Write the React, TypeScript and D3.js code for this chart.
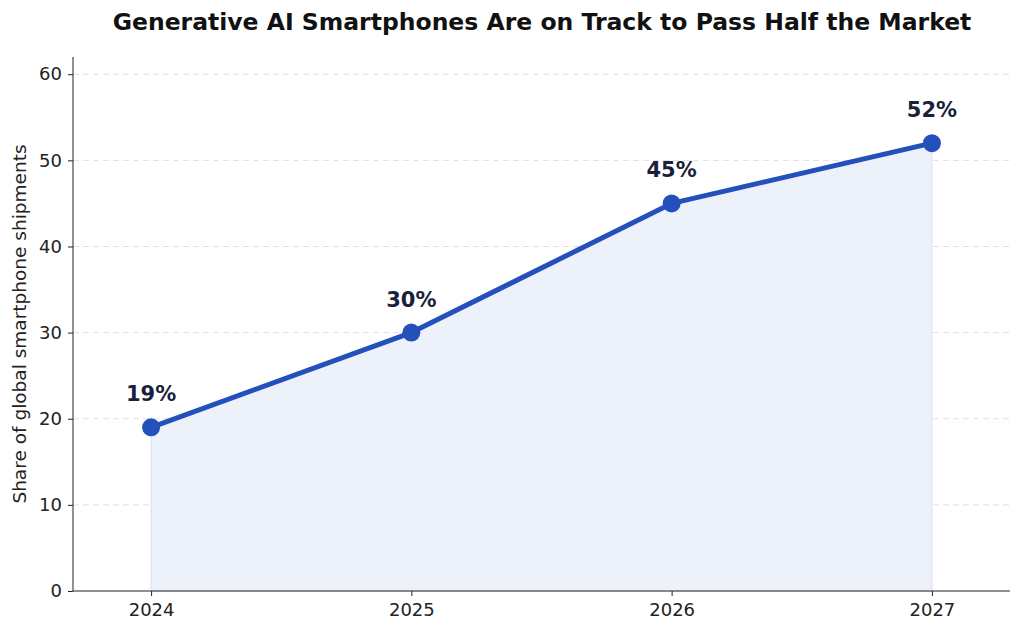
import { useEffect, useRef } from 'react';
import * as d3 from 'd3';

const years = [2024, 2025, 2026, 2027];
const shares = [19, 30, 45, 52];
const yTicks = [0, 10, 20, 30, 40, 50, 60];

const W = 1024;
const H = 635;

export default function App() {
  const ref = useRef<SVGSVGElement>(null);

  useEffect(() => {
    if (!ref.current) return;
    const svg = d3.select(ref.current);
    svg.selectAll('*').remove();
    const font = 'DejaVu Sans, sans-serif';

    const left = 73, right = 1010, top = 57, bottom = 591;
    const x = d3.scaleLinear().domain([2023.7, 2027.3]).range([left, right]);
    const y = d3.scaleLinear().domain([0, 62]).range([bottom, top]);

    // grid
    svg.append('g').selectAll('line').data(yTicks.filter(t => t > 0)).join('line')
      .attr('x1', left).attr('x2', right)
      .attr('y1', d => y(d)).attr('y2', d => y(d))
      .attr('stroke', '#e0e0e0').attr('stroke-width', 1).attr('stroke-dasharray', '6,4');

    const pts = years.map((yr, i) => ({ yr, v: shares[i] }));

    const area = d3.area<{ yr: number; v: number }>()
      .x(d => x(d.yr)).y0(y(0)).y1(d => y(d.v));
    svg.append('path').datum(pts).attr('d', area)
      .attr('fill', '#ebf0f9').attr('fill-opacity', 0.9)
      .attr('stroke', '#d8e0f0').attr('stroke-width', 1);

    const line = d3.line<{ yr: number; v: number }>().x(d => x(d.yr)).y(d => y(d.v));
    svg.append('path').datum(pts).attr('d', line)
      .attr('fill', 'none').attr('stroke', '#2450bb').attr('stroke-width', 5)
      .attr('stroke-linejoin', 'round');

    svg.append('g').selectAll('circle').data(pts).join('circle')
      .attr('cx', d => x(d.yr)).attr('cy', d => y(d.v)).attr('r', 9)
      .attr('fill', '#2450bb');

    svg.append('g').selectAll('text').data(pts).join('text')
      .attr('x', d => x(d.yr)).attr('y', d => y(d.v) - 26)
      .attr('text-anchor', 'middle').attr('font-family', font)
      .attr('font-size', 21).attr('font-weight', 'bold').attr('fill', '#1a1f3a')
      .text(d => `${d.v}%`);

    // axes
    const yAxis = svg.append('g').attr('transform', `translate(${left},0)`)
      .call(d3.axisLeft(y).tickValues(yTicks).tickSize(5).tickPadding(6));
    const xAxis = svg.append('g').attr('transform', `translate(0,${bottom})`)
      .call(d3.axisBottom(x).tickValues(years).tickFormat(d3.format('d')).tickSize(5).tickPadding(7));
    [yAxis, xAxis].forEach(a => {
      a.selectAll('text').attr('font-family', font).attr('font-size', 18).attr('fill', '#222');
      a.selectAll('line').attr('stroke', '#222');
    });
    yAxis.select('.domain').attr('d', `M0,${bottom}V${top}`).attr('stroke', '#222');
    xAxis.select('.domain').attr('d', `M${left},0H${right}`).attr('stroke', '#222');

    svg.append('text').attr('transform', `translate(26,${(top + bottom) / 2}) rotate(-90)`)
      .attr('text-anchor', 'middle').attr('font-family', font).attr('font-size', 18.5)
      .attr('fill', '#222').text('Share of global smartphone shipments');

    svg.append('text').attr('x', 542).attr('y', 30).attr('text-anchor', 'middle')
      .attr('font-family', font).attr('font-size', 23.5).attr('font-weight', 'bold')
      .attr('fill', '#111').text('Generative AI Smartphones Are on Track to Pass Half the Market');
  }, []);

  return (
    <svg ref={ref} width={W} height={H}
      style={{ position: 'fixed', left: 0, top: 0, background: '#fff' }} />
  );
}
